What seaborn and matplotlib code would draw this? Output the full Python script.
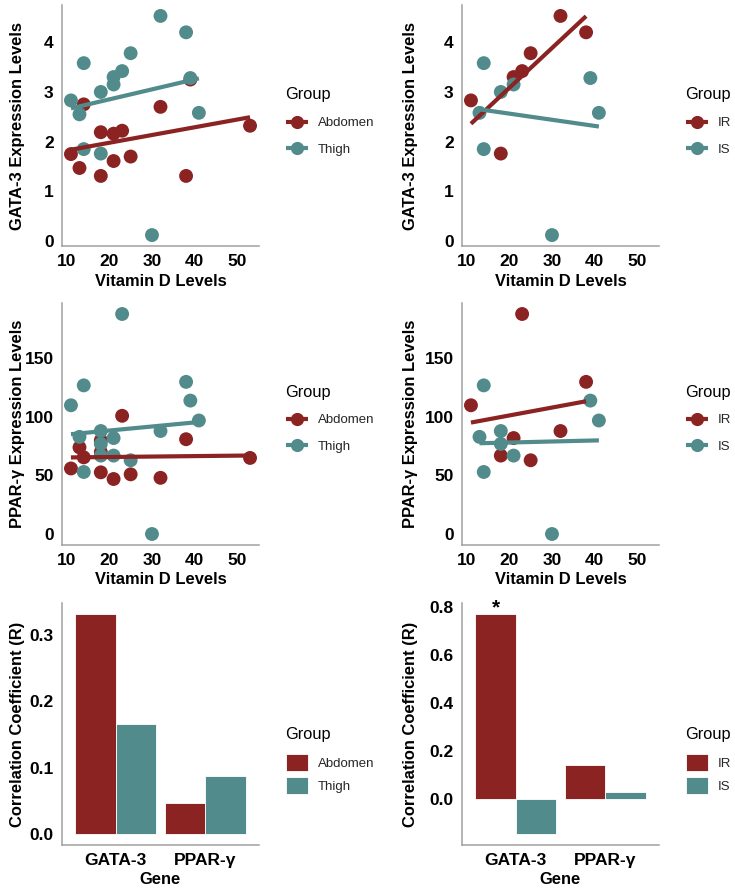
import numpy as np
import pandas as pd
import matplotlib
matplotlib.use('Agg')
import matplotlib.pyplot as plt
import seaborn as sns
from matplotlib.lines import Line2D
from matplotlib.patches import Patch

RED = '#8B2323'
TEAL = '#528B8B'

# ---------------- data ----------------
# GATA-3, by site
abd_vitd_gata = [11, 13, 14, 18, 18, 21, 21, 23, 25, 32, 38, 39, 53]
abd_gata = [1.75, 1.47, 2.75, 2.19, 1.31, 2.16, 1.61, 2.22, 1.70, 2.70, 1.31, 3.25, 2.32]
thigh_vitd_gata = [11, 13, 14, 14, 18, 18, 21, 21, 23, 25, 30, 32, 38, 39, 41]
thigh_gata = [2.83, 2.55, 3.58, 1.85, 3.00, 1.76, 3.30, 3.15, 3.42, 3.78, 0.12, 4.53, 4.20, 3.28, 2.58]
# GATA-3, by insulin status
ir_vitd_gata = [11, 18, 21, 23, 25, 32, 38]
ir_gata = [2.83, 1.76, 3.30, 3.42, 3.78, 4.53, 4.20]
is_vitd_gata = [13, 14, 14, 18, 21, 30, 39, 41]
is_gata = [2.58, 3.58, 1.85, 3.00, 3.15, 0.12, 3.28, 2.58]

# PPAR-γ, by site
abd_vitd_ppar = [11, 13, 14, 18, 18, 18, 21, 23, 25, 32, 38, 53]
abd_ppar = [56, 74, 65.5, 80, 70, 52.7, 47, 101, 51, 48, 81, 65]
thigh_vitd_ppar = [11, 13, 14, 14, 18, 18, 18, 21, 21, 23, 25, 30, 32, 38, 39, 41]
thigh_ppar = [110, 83, 127, 53, 88, 77, 67, 82, 67, 188, 63, 0, 88, 130, 114, 97]
# PPAR-γ, by insulin status
ir_vitd_ppar = [11, 18, 21, 23, 25, 32, 38]
ir_ppar = [110, 67, 82, 188, 63, 88, 130]
is_vitd_ppar = [13, 14, 14, 18, 18, 21, 30, 39, 41]
is_ppar = [83, 127, 53, 88, 77, 67, 0, 114, 97]

# Correlation coefficients
genes = ['GATA-3', 'PPAR-γ']
r_abdomen = [0.332, 0.046]
r_thigh = [0.165, 0.087]
r_ir = [0.770, 0.141]
r_is = [-0.146, 0.030]

# ---------------- style ----------------
sns.set_theme(style='white')
plt.rcParams['font.family'] = ['Liberation Sans', 'DejaVu Sans']

W, H = 735, 890
fig = plt.figure(figsize=(W / 100, H / 100), dpi=100)


def add_ax(l, t, r, b):
    return fig.add_axes([l / W, 1 - b / H, (r - l) / W, (b - t) / H])


def style(ax, xticks, xlabels, yticks, ylabels, xlabel, ylabel, ylab_px):
    for s in ['top', 'right']:
        ax.spines[s].set_visible(False)
    for s in ['left', 'bottom']:
        ax.spines[s].set_color('#a0a0a0')
        ax.spines[s].set_linewidth(1.1)
    ax.set_xticks(xticks)
    ax.set_xticklabels(xlabels, fontweight='bold', fontsize=12.5, color='black')
    ax.set_yticks(yticks)
    ax.set_yticklabels(ylabels, fontweight='bold', fontsize=12.5, color='black')
    ax.tick_params(axis='both', colors='#a0a0a0', length=4, width=1.1,
                   labelcolor='black', pad=2, direction='out')
    ax.set_xlabel(xlabel, fontweight='bold', fontsize=11.9, color='black', labelpad=3)
    ax.set_ylabel(ylabel, fontweight='bold', fontsize=11.9, color='black')
    ax.yaxis.set_label_coords(-ylab_px / 197.0, 0.5)
    ax.set_facecolor('white')


def scatter_panel(ax, groups, ylim, yticks, ylabel, ylab_px):
    for x, y, c in groups:
        sns.scatterplot(x=np.array(x), y=np.array(y), color=c, s=100,
                        edgecolor='none', linewidth=0, ax=ax, zorder=2)
    for x, y, c in groups:
        sns.regplot(x=np.array(x, dtype=float), y=np.array(y, dtype=float),
                    scatter=False, ci=None, color=c, truncate=True, ax=ax,
                    line_kws={'lw': 3, 'zorder': 3, 'solid_capstyle': 'butt'})
    ax.set_xlim(8.9, 55.1)
    ax.set_ylim(*ylim)
    style(ax, [10, 20, 30, 40, 50], ['10', '20', '30', '40', '50'],
          yticks, [str(t) for t in yticks], 'Vitamin D Levels', ylabel, ylab_px)


def legend_title(x, y):
    fig.text(x / W, 1 - y / H, 'Group', ha='left', va='center',
             fontsize=11.8, color='black')


def point_legend(x, y, labels):
    legend_title(x, y)
    handles = [Line2D([0], [0], color=c, lw=3, marker='o', markersize=9.5,
                      markeredgewidth=0, solid_capstyle='butt') for c in (RED, TEAL)]
    fig.legend(handles, labels, loc='upper left',
               bbox_to_anchor=((x + 1) / W, 1 - (y + 22) / H), frameon=False,
               fontsize=9.5, handlelength=1.65, handletextpad=0.75,
               labelspacing=1.1, borderpad=0, borderaxespad=0)


def bar_legend(x, y, labels):
    legend_title(x, y)
    handles = [Patch(facecolor=c, edgecolor='white', linewidth=0.6) for c in (RED, TEAL)]
    fig.legend(handles, labels, loc='upper left',
               bbox_to_anchor=((x + 1) / W, 1 - (y + 19) / H), frameon=False,
               fontsize=9.5, handlelength=1.65, handleheight=1.6,
               handletextpad=0.75, labelspacing=0.45, borderpad=0,
               borderaxespad=0)


def bar_panel(ax, vals1, vals2, names, ylim, yticks, ylabels, ylab_px):
    df = pd.DataFrame({'Gene': genes + genes,
                       'Group': [names[0]] * 2 + [names[1]] * 2,
                       'R': list(vals1) + list(vals2)})
    sns.barplot(data=df, x='Gene', y='R', hue='Group', hue_order=names,
                palette=[RED, TEAL], saturation=1, width=0.9, edgecolor='white',
                linewidth=0.6, errorbar=None, legend=False, ax=ax, zorder=2)
    ax.set_xlim(-0.6, 1.6)
    ax.set_ylim(*ylim)
    style(ax, [0, 1], genes, yticks, ylabels, 'Gene',
          'Correlation Coefficient (R)', ylab_px)


# ---------------- row 1: GATA-3 ----------------
ax1 = add_ax(62, 5, 259, 246)
scatter_panel(ax1, [(abd_vitd_gata, abd_gata, RED), (thigh_vitd_gata, thigh_gata, TEAL)],
              (-0.10, 4.75), [0, 1, 2, 3, 4], 'GATA-3 Expression Levels', 37)
point_legend(285, 95, ['Abdomen', 'Thigh'])

ax2 = add_ax(462, 5, 659, 246)
scatter_panel(ax2, [(ir_vitd_gata, ir_gata, RED), (is_vitd_gata, is_gata, TEAL)],
              (-0.10, 4.75), [0, 1, 2, 3, 4], 'GATA-3 Expression Levels', 44)
point_legend(685, 95, ['IR', 'IS'])

# ---------------- row 2: PPAR-γ ----------------
ax3 = add_ax(62, 303, 259, 545)
scatter_panel(ax3, [(abd_vitd_ppar, abd_ppar, RED), (thigh_vitd_ppar, thigh_ppar, TEAL)],
              (-9.4, 197.4), [0, 50, 100, 150], 'PPAR-γ Expression Levels', 37)
point_legend(285, 392, ['Abdomen', 'Thigh'])

ax4 = add_ax(462, 303, 659, 545)
scatter_panel(ax4, [(ir_vitd_ppar, ir_ppar, RED), (is_vitd_ppar, is_ppar, TEAL)],
              (-9.4, 197.4), [0, 50, 100, 150], 'PPAR-γ Expression Levels', 44)
point_legend(685, 392, ['IR', 'IS'])

# ---------------- row 3: correlation bars ----------------
ax5 = add_ax(62, 603, 259, 845)
bar_panel(ax5, r_abdomen, r_thigh, ['Abdomen', 'Thigh'], (-0.0166, 0.348),
          [0.0, 0.1, 0.2, 0.3], ['0.0', '0.1', '0.2', '0.3'], 37)
bar_legend(285, 735, ['Abdomen', 'Thigh'])

ax6 = add_ax(462, 603, 659, 845)
bar_panel(ax6, r_ir, r_is, ['IR', 'IS'], (-0.191, 0.816),
          [0.0, 0.2, 0.4, 0.6, 0.8], ['0.0', '0.2', '0.4', '0.6', '0.8'], 44)
ax6.text(-0.225, r_ir[0] - 0.015, '*', ha='center', va='bottom',
         fontsize=15, fontweight='bold', color='black')
bar_legend(685, 735, ['IR', 'IS'])

fig.savefig('out.png', dpi=100, facecolor='white')
